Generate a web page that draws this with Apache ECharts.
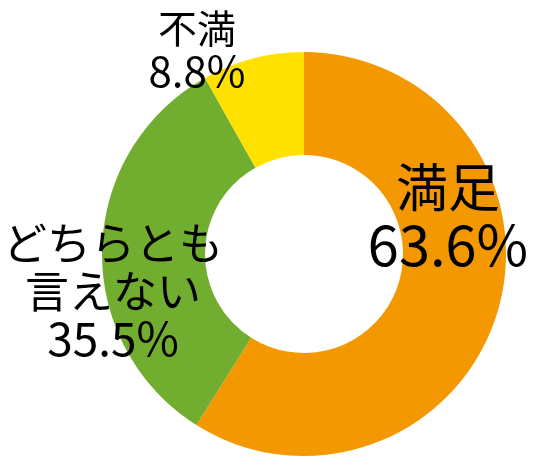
<!DOCTYPE html>
<html>
<head>
<meta charset="utf-8">
<script src="https://cdn.jsdelivr.net/npm/echarts@6/dist/echarts.min.js"></script>
<style>
html,body{margin:0;padding:0;background:#fff;}
#chart{width:535px;height:470px;}
</style>
</head>
<body>
<div id="chart"></div>
<script>
const categories = ['満足', 'どちらとも言えない', '不満'];
const labelLines = [['満足'], ['どちらとも', '言えない'], ['不満']];
const values = [63.6, 35.5, 8.8];
const colors = ['#F39800', '#71AE2F', '#FFE100'];

const labelStyles = [
  { nameSize: 52, numSize: 56, lineHeight: 58, x: 448, y: 216 },
  { nameSize: 44, numSize: 46, lineHeight: 48, x: 113, y: 291 },
  { nameSize: 39, numSize: 42, lineHeight: 43, x: 197, y: 50 }
];

const cjk = '"Noto Sans CJK JP", "Noto Sans", sans-serif';

const chart = echarts.init(document.getElementById('chart'));
chart.setOption({
  animation: false,
  series: [{
    type: 'pie',
    center: [304, 254],
    radius: [99, 202],
    startAngle: 90,
    clockwise: true,
    silent: true,
    label: {
      show: true,
      position: 'inside',
      overflow: 'none',
      color: '#000',
      fontFamily: cjk,
      formatter: function (p) {
        const lines = labelLines[p.dataIndex].map(function (t) { return '{n|' + t + '}'; });
        lines.push('{p|' + p.value + '%}');
        return lines.join('\n');
      }
    },
    labelLine: { show: false },
    labelLayout: function (p) {
      const s = labelStyles[p.dataIndex];
      return { x: s.x, y: s.y, align: 'center', verticalAlign: 'middle', hideOverlap: false };
    },
    data: categories.map(function (c, i) {
      const s = labelStyles[i];
      return {
        name: c,
        value: values[i],
        itemStyle: { color: colors[i] },
        label: {
          rich: {
            n: { fontSize: s.nameSize, lineHeight: s.lineHeight, fontFamily: cjk, color: '#000' },
            p: { fontSize: s.numSize, lineHeight: s.lineHeight, fontFamily: cjk, color: '#000' }
          }
        }
      };
    })
  }]
});
</script>
</body>
</html>
